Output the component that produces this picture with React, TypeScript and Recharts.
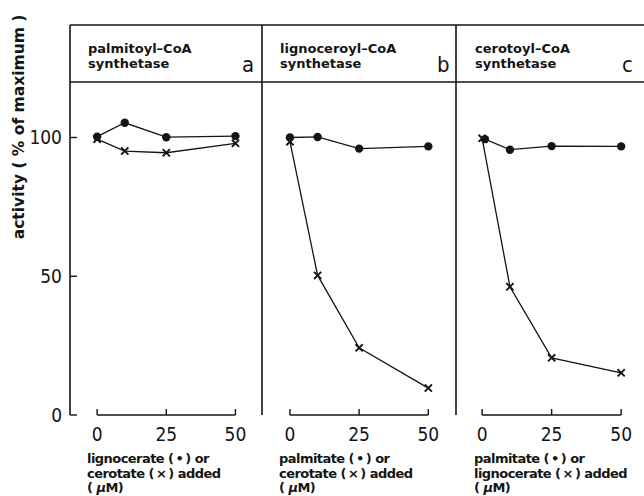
import React from "react";
import { LineChart, Line, XAxis, YAxis, ReferenceLine } from "recharts";

// substrate added (µM)
const conc = [0, 10, 25, 50];
const concShifted = [1, 10, 25, 50];

// activity (% of maximum)
const palmitoylCircles = [100.3, 105.3, 100.1, 100.5];
const palmitoylCrosses = [99.4, 95.1, 94.5, 97.9];
const lignoceroylCircles = [100, 100.2, 96, 96.8];
const lignoceroylCrosses = [98.5, 50.3, 24.2, 9.7];
const cerotoylCircles = [99.4, 95.6, 96.9, 96.8];
const cerotoylCrosses = [99.7, 46.2, 20.6, 15.2];

const xTicks = [0, 25, 50];
const yTicks = [0, 50, 100];

const titles = [
  ["palmitoyl–CoA", "synthetase"],
  ["lignoceroyl–CoA", "synthetase"],
  ["cerotoyl–CoA", "synthetase"],
];
const letters = ["a", "b", "c"];
const circleNames = ["lignocerate", "palmitate", "palmitate"];
const crossNames = ["cerotate", "cerotate", "lignocerate"];

const INK = "#151515";
const tickFont = "'DejaVu Sans Condensed', 'DejaVu Sans', sans-serif";
const boldFont = "'DejaVu Sans', sans-serif";

const toPts = (xs: number[], ys: number[]) =>
  xs.map((x, i) => ({ x, y: ys[i] }));

const panels = [
  {
    left: 0,
    lw: 70,
    plotW: 192,
    domain: [-9.8, 59.6],
    circles: toPts(conc, palmitoylCircles),
    crosses: toPts(conc, palmitoylCrosses),
    labels: true,
    titleX: 88,
    letterX: 242,
  },
  {
    left: 252,
    lw: 10,
    plotW: 194,
    domain: [-10.1, 60],
    circles: toPts(conc, lignoceroylCircles),
    crosses: toPts(conc, lignoceroylCrosses),
    labels: false,
    titleX: 280,
    letterX: 437,
  },
  {
    left: 446,
    lw: 10,
    plotW: 191,
    domain: [-9.4, 59.3],
    circles: toPts(concShifted, cerotoylCircles),
    crosses: toPts(conc, cerotoylCrosses),
    labels: false,
    titleX: 475,
    letterX: 622,
  },
];

const Cross = (p: any) => {
  const { cx, cy, index } = p;
  if (cx == null || cy == null) return <g key={`x-${index}`} />;
  const s = 3.6;
  return (
    <path
      key={`x-${index}`}
      d={`M${cx - s},${cy - s}L${cx + s},${cy + s}M${cx - s},${cy + s}L${cx + s},${cy - s}`}
      stroke={INK}
      strokeWidth={1.9}
    />
  );
};

function Panel({ p }: { p: (typeof panels)[number] }) {
  const rw = 10;
  const axisStroke = { stroke: INK, strokeWidth: 1.6 };
  return (
    <div style={{ position: "absolute", left: p.left, top: 0 }}>
      <LineChart
        width={p.lw + p.plotW + rw}
        height={496}
        margin={{ top: 0, right: 0, bottom: 0, left: 0 }}
      >
        <XAxis
          xAxisId="b"
          type="number"
          dataKey="x"
          domain={p.domain}
          allowDataOverflow
          ticks={xTicks}
          interval={0}
          height={81}
          axisLine={false}
          tickLine={{ stroke: INK, strokeWidth: 1.4 }}
          tickSize={-6}
          tickMargin={19}
          tick={{ fill: INK, fontSize: 19, fontFamily: tickFont }}
        />
        <XAxis
          xAxisId="t"
          orientation="top"
          type="number"
          dataKey="x"
          domain={p.domain}
          allowDataOverflow
          ticks={xTicks}
          interval={0}
          height={82}
          axisLine={axisStroke}
          tickLine={{ stroke: INK, strokeWidth: 1.4 }}
          tickSize={-7}
          tick={false}
        />
        <YAxis
          yAxisId="l"
          type="number"
          domain={[0, 120]}
          allowDataOverflow
          ticks={yTicks}
          interval={0}
          width={p.lw}
          axisLine={axisStroke}
          tickLine={{ stroke: INK, strokeWidth: 1.4 }}
          tickSize={-7}
          tickMargin={15}
          tick={
            p.labels
              ? { fill: INK, fontSize: 19, fontFamily: tickFont }
              : false
          }
        />
        <YAxis
          yAxisId="r"
          orientation="right"
          type="number"
          domain={[0, 120]}
          allowDataOverflow
          ticks={yTicks}
          interval={0}
          width={rw}
          axisLine={false}
          tickLine={{ stroke: INK, strokeWidth: 1.4 }}
          tickSize={-7}
          tick={false}
        />
        <ReferenceLine
          xAxisId="b"
          yAxisId="l"
          segment={[
            { x: 0, y: 0 },
            { x: 50, y: 0 },
          ]}
          stroke={INK}
          strokeWidth={1.4}
        />
        <Line
          xAxisId="b"
          yAxisId="l"
          data={p.crosses}
          dataKey="y"
          stroke={INK}
          strokeWidth={1.3}
          dot={Cross}
          activeDot={false}
          isAnimationActive={false}
        />
        <Line
          xAxisId="b"
          yAxisId="l"
          data={p.circles}
          dataKey="y"
          stroke={INK}
          strokeWidth={1.3}
          dot={{ r: 4.2, fill: INK, stroke: INK, strokeWidth: 0 }}
          activeDot={false}
          isAnimationActive={false}
        />
      </LineChart>
    </div>
  );
}

export default function App() {
  return (
    <div
      style={{
        position: "absolute",
        left: 0,
        top: 0,
        width: 644,
        height: 496,
        overflow: "hidden",
        background: "#fff",
      }}
    >
      {panels.map((p, i) => (
        <Panel key={i} p={p} />
      ))}
      <svg
        width={644}
        height={496}
        style={{ position: "absolute", left: 0, top: 0, pointerEvents: "none" }}
      >
        <line x1={70} y1={25} x2={644} y2={25} stroke={INK} strokeWidth={1.6} />
        {[70, 262, 456].map((x) => (
          <line key={x} x1={x} y1={25} x2={x} y2={82} stroke={INK} strokeWidth={1.6} />
        ))}
        {panels.map((p, i) => (
          <g key={i}>
            <text
              x={p.titleX}
              y={53}
              fontFamily={boldFont}
              fontWeight={700}
              fontSize={13}
              fill={INK}
            >
              {titles[i][0]}
            </text>
            <text
              x={p.titleX}
              y={68}
              fontFamily={boldFont}
              fontWeight={700}
              fontSize={13}
              fill={INK}
            >
              {titles[i][1]}
            </text>
            <text
              x={p.letterX}
              y={72}
              fontFamily={tickFont}
              fontSize={22}
              fill={INK}
            >
              {letters[i]}
            </text>
            <text
              x={p.titleX - 1}
              fontFamily={boldFont}
              fontWeight={700}
              fontSize={13}
              letterSpacing={-0.55}
              fill={INK}
            >
              <tspan x={p.titleX - 1} y={463}>
                {`${circleNames[i]} (\u2009•\u2009) or`}
              </tspan>
              <tspan x={p.titleX - 1} y={477.5}>
                {`${crossNames[i]} (\u2009×\u2009) added`}
              </tspan>
              <tspan x={p.titleX - 1} y={492}>
                {"( "}
                <tspan fontStyle="italic">µ</tspan>
                {"M)"}
              </tspan>
            </text>
          </g>
        ))}
        <text
          transform="translate(24,127) rotate(-90)"
          textAnchor="middle"
          fontFamily={boldFont}
          fontWeight={700}
          fontSize={15.5}
          fill={INK}
        >
          activity ( % of maximum )
        </text>
      </svg>
    </div>
  );
}
